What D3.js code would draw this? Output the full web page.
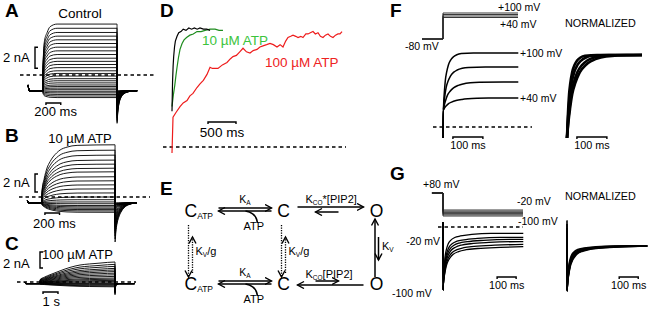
<!DOCTYPE html>
<html>
<head>
<meta charset="utf-8">
<script src="https://cdn.jsdelivr.net/npm/d3@7/dist/d3.min.js"></script>
<style>
  body { margin: 0; background: #fff; }
  text { font-family: "Liberation Sans", Arial, sans-serif; fill: #000; }
</style>
</head>
<body>
<div id="chart-area"></div>
<script>
/*
*    figure: current families (A-C), normalized activation (D),
*    kinetic scheme (E), activation / deactivation (F, G)
*/

// ---- A-C : current (nA) reached by each trace at the end of the pulse ----
var ctrlLevels   = [4.85, 4.45, 4.05, 3.7, 3.35, 3.0, 2.65, 2.3, 1.95, 1.6, 1.3, 1.0, 0.7, 0.4, 0.15, -0.1, -0.35, -0.55, -0.75, -0.95, -1.1, -1.25, -1.4, -1.55, -1.7, -1.85, -2.0, -2.15];
var atp10Levels  = [5.8, 5.2, 4.65, 4.1, 3.65, 3.2, 2.8, 2.25, 1.8, 1.35, 0.9, 0.45, 0.0, -0.3, -0.55, -0.75, -0.95, -1.1, -1.25, -1.4, -1.55, -1.7];
var atp100Levels = [2.5, 2.2, 1.95, 1.7, 1.5, 1.3, 1.1, 0.9, 0.7, 0.5, 0.35, 0.2, 0.05, -0.1, -0.2, -0.3, -0.4, -0.5, -0.6];
var holdCurrent  = [-1.5, -0.65, -0.2];   // A, B, C
var startCurrent = [-0.95, -0.35, 0.0];
var tailPeak     = [-4.6, -5.0, -1.6];

// activation time course (ms, fraction of final level)
var ctrlActT   = [0, 8, 20, 54, 95, 190, 1000];
var ctrlActF   = [0.35, 0.6, 0.75, 0.87, 0.96, 1, 1];
var atp10ActT  = [0, 30, 68, 110, 150, 200, 247, 342, 480, 1000];
var atp10ActF  = [0.21, 0.42, 0.6, 0.71, 0.79, 0.86, 0.91, 0.96, 0.99, 1];
var atp100ActT = [0, 300, 667, 1000, 1333, 2000, 2667, 3300, 4000, 5000];
var atp100ActF = [0.18, 0.3, 0.41, 0.5, 0.59, 0.75, 0.86, 0.91, 0.95, 1];

// tail relaxation (ms after the pulse, fraction left)
var fastTailT = [0, 6, 15, 30, 55, 90, 140, 200, 270];
var fastTailF = [1, 0.78, 0.56, 0.36, 0.2, 0.1, 0.04, 0.01, 0];
var slowTailT = [0, 10, 25, 50, 80, 120, 170, 230, 300];
var slowTailF = [1, 0.75, 0.55, 0.37, 0.24, 0.13, 0.06, 0.02, 0];

// ---- D : normalized currents [ms, fraction] ----
var dCtrl = [[0,0.3],[10,0.55],[20,0.68],[30,0.76],[45,0.84],[60,0.89],[90,0.93],[120,0.96],[160,0.97],[200,0.99],[250,0.98],[300,1.0],[350,0.99],[400,1.0],[450,0.99],[500,1.0],[560,0.99],[620,0.99],[680,0.98]];
var dAtp10 = [[0,0.34],[25,0.44],[50,0.52],[70,0.6],[90,0.67],[115,0.75],[143,0.82],[180,0.87],[215,0.9],[260,0.92],[320,0.94],[380,0.95],[446,0.97],[520,0.97],[590,0.98],[680,0.99],[770,0.99],[840,0.98],[910,0.98]];
var dAtp100 = [[0,-0.05],[18,0.25],[71,0.29],[143,0.34],[200,0.37],[268,0.39],[320,0.43],[375,0.45],[446,0.5],[500,0.53],[560,0.56],[625,0.61],[679,0.67],[720,0.66],[821,0.66],[900,0.69],[982,0.71],[1040,0.74],[1089,0.76],[1150,0.77],[1210,0.8],[1268,0.83],[1330,0.8],[1393,0.79],[1450,0.81],[1518,0.82],[1570,0.84],[1625,0.85],[1690,0.86],[1750,0.87],[1810,0.86],[1875,0.84],[1930,0.86],[1982,0.84],[2030,0.89],[2071,0.92],[2120,0.93],[2161,0.94],[2210,0.93],[2250,0.92],[2300,0.93],[2339,0.92],[2390,0.95],[2429,0.95],[2470,0.96],[2518,0.97],[2560,0.95],[2607,0.96],[2650,0.93],[2696,0.92],[2740,0.94],[2786,0.95],[2830,0.93],[2875,0.92],[2920,0.94],[2964,0.95],[3000,0.95],[3036,0.97]];

// ---- E : kinetic scheme ----
var stateNames = ["C_{ATP}", "C", "O"];
var rowRates   = [["K_{A}", "K_{CO}*[PIP2]"], ["K_{A}", "K_{CO}[PIP2]"]];
var vertRates  = ["K_{V}/g", "K_{V}/g", "K_{V}"];

// ---- F : activation ----
var fVolts   = [100, 80, 60, 40];
var fSteady  = [3.7, 3.0, 2.25, 1.45];
var fInst    = 0.85;
var fSpike   = -0.55;
var fStretch = [1, 1.4, 2, 2.5];
var fActT    = [0, 2, 4, 7, 11, 17, 25, 33, 45, 60, 100, 250];
var fActF    = [0, 0.2, 0.35, 0.53, 0.66, 0.79, 0.88, 0.93, 0.97, 0.99, 1, 1];

// ---- G : deactivation ----
var gVolts    = [-20, -36, -52, -68, -84, -100];
var gSteady   = [-0.32, -0.52, -0.62, -0.73, -0.87, -0.98];
var gInst     = -2.9;
var gSpikeUp  = 0.25;
var gSpikeDn  = -3.15;
var gStretch  = [1, 1.2, 1.4, 1.6, 1.8, 2.0];
var gRelT     = [0, 4, 8, 14, 20, 26, 40, 60, 90, 150, 250, 420];
var gRelF     = [0, 0.3, 0.5, 0.65, 0.74, 0.8, 0.87, 0.92, 0.95, 0.98, 1, 1];

var svg = d3.select("#chart-area").append("svg").attr("width", 652).attr("height", 310);

var defs = svg.append("defs");
defs.append("marker").attr("id", "head").attr("markerUnits", "userSpaceOnUse")
    .attr("markerWidth", 9).attr("markerHeight", 9).attr("refX", 7).attr("refY", 4)
    .attr("orient", "auto")
    .append("path").attr("d", "M0.5,0.5 L7,4 L0.5,7.5").attr("fill", "none")
    .attr("stroke", "#000").attr("stroke-width", 1.4);

var smooth = d3.curveMonotoneX;

function label(x, y, txt, size, anchor, weight) {
    return svg.append("text").attr("x", x).attr("y", y).attr("font-size", size)
              .attr("text-anchor", anchor || "start").attr("font-weight", weight || "normal").text(txt);
}
function dashed(x0, x1, y) {
    svg.append("line").attr("x1", x0).attr("x2", x1).attr("y1", y).attr("y2", y)
       .attr("stroke", "#000").attr("stroke-width", 1.3).attr("stroke-dasharray", "3.5,3");
}
function timeBar(x0, x1, y) {
    svg.append("path").attr("d", "M" + x0 + "," + (y + 2) + "V" + y + "H" + x1 + "V" + (y + 2))
       .attr("fill", "none").attr("stroke", "#000").attr("stroke-width", 1.4);
}
function ampBar(x, y0, y1) {
    svg.append("path").attr("d", "M" + (x + 3) + "," + y0 + "H" + x + "V" + y1 + "H" + (x + 3))
       .attr("fill", "none").attr("stroke", "#000").attr("stroke-width", 1.4);
}

// ---------- A-C ----------
function familyTraces(levels, hold, start, pre, actT, actF, dur, tailT, tailF, peak, post) {
    var lo = d3.min(levels), hi = d3.max(levels);
    return levels.map(function(L) {
        var pts = [[-pre, start], [-pre * 0.94, hold], [-1, hold]];
        actT.forEach(function(t, k) { pts.push([t + 0.5, hold + (L - hold) * actF[k]]); });
        var tI = hold + (peak - hold) * (L - lo) / (hi - lo);
        tailT.forEach(function(t, k) { pts.push([dur + 1 + t, hold + (tI - hold) * tailF[k]]); });
        pts.push([post, hold]);
        return pts;
    });
}

var families = [
    { levels: ctrlLevels, actT: ctrlActT, actF: ctrlActF, dur: 1000, pre: 200, post: 1270, tT: fastTailT, tF: fastTailF,
      x: d3.scaleLinear().domain([0, 1000]).range([43, 117]), y: d3.scaleLinear().domain([0, 2]).range([75, 54]) },
    { levels: atp10Levels, actT: atp10ActT, actF: atp10ActF, dur: 1000, pre: 200, post: 1270, tT: slowTailT, tF: slowTailF,
      x: d3.scaleLinear().domain([0, 1000]).range([42, 115]), y: d3.scaleLinear().domain([0, 2]).range([197, 179]) },
    { levels: atp100Levels, actT: atp100ActT, actF: atp100ActF, dur: 5000, pre: 1000, post: 6300, tT: fastTailT, tF: fastTailF,
      x: d3.scaleLinear().domain([0, 5000]).range([40, 115]), y: d3.scaleLinear().domain([0, 2]).range([282, 266]) }
];

families.forEach(function(f, i) {
    var traces = familyTraces(f.levels, holdCurrent[i], startCurrent[i], f.pre, f.actT, f.actF,
                              f.dur, f.tT, f.tF, tailPeak[i], f.post);
    var line = d3.line().x(function(d) { return f.x(d[0]); }).y(function(d) { return f.y(d[1]); }).curve(smooth);
    svg.append("g").selectAll("path").data(traces).enter().append("path")
       .attr("d", line).attr("fill", "none").attr("stroke", "#000").attr("stroke-width", 0.9);
});

// zero lines and scale bars
dashed(20, 154, families[0].y(0));
dashed(19, 150, families[1].y(0));
dashed(17, 136, families[2].y(0));

ampBar(35, families[0].y(2.65), families[0].y(0.65));
ampBar(35, families[1].y(2.55), families[1].y(0.55));
ampBar(40, families[2].y(3.75), families[2].y(1.75));
label(3, 62, "2 nA", 13);
label(3, 187, "2 nA", 13);
label(3, 268, "2 nA", 13);

timeBar(families[0].x(40), families[0].x(240), 103);
label(families[0].x(170), 116, "200 ms", 13, "middle");
timeBar(families[1].x(40), families[1].x(240), 213);
label(families[1].x(170), 228, "200 ms", 13, "middle");
timeBar(families[2].x(200), families[2].x(1200), 292);
label(families[2].x(750), 306, "1 s", 13, "middle");

label(5, 17, "A", 19, "start", "bold");
label(5, 142, "B", 19, "start", "bold");
label(5, 250, "C", 19, "start", "bold");
label(80, 18, "Control", 13.5, "middle");
label(80, 143, "10 \u00b5M ATP", 13, "middle");
label(42, 259, "100 \u00b5M ATP", 13, "start");

// ---------- D ----------
var xD = d3.scaleLinear().domain([0, 3100]).range([172, 345.6]);
var yD = d3.scaleLinear().domain([0, 1]).range([147, 28]);
var lineD = d3.line().x(function(d) { return xD(d[0]); }).y(function(d) { return yD(d[1]); });

dashed(163, 346, yD(0));
svg.append("path").attr("d", lineD(dAtp100)).attr("fill", "none").attr("stroke", "#ee1c1c").attr("stroke-width", 1.2);
svg.append("path").attr("d", lineD(dAtp10)).attr("fill", "none").attr("stroke", "#1e8c1e").attr("stroke-width", 1.2);
svg.append("path").attr("d", lineD(dCtrl)).attr("fill", "none").attr("stroke", "#000").attr("stroke-width", 1.2);

label(202, 45, "10 \u00b5M ATP", 13.5).style("fill", "#3cc43c");
label(265, 67, "100 \u00b5M ATP", 13.5).style("fill", "#ee2222");
timeBar(xD(643), xD(1143), 122);
label(xD(893), 137, "500 ms", 13.5, "middle");
label(160, 17, "D", 19, "start", "bold");

// ---------- E ----------
var eCol = d3.scalePoint().domain([0, 1, 2]).range([190.5, 376.5]);
var eRow = d3.scalePoint().domain([0, 1]).range([217, 290]);

function rich(x, y, str, size, subSize, anchor) {
    var t = svg.append("text").attr("x", x).attr("y", y).attr("text-anchor", anchor || "start");
    var shift = 0;
    str.split(/(_\{[^}]*\})/).filter(function(p) { return p.length; }).forEach(function(p) {
        if (p[0] === "_") {
            t.append("tspan").attr("font-size", subSize).attr("dy", 2 - shift).text(p.slice(2, -1));
            shift = 2;
        } else {
            t.append("tspan").attr("font-size", size).attr("dy", -shift).text(p);
            shift = 0;
        }
    });
    return t;
}
function arrow(x0, y0, x1, y1, dotted) {
    var l = svg.append("line").attr("x1", x0).attr("y1", y0).attr("x2", x1).attr("y2", y1)
               .attr("stroke", "#000").attr("stroke-width", dotted ? 1.3 : 1.5)
               .attr("marker-end", "url(#head)");
    if (dotted) l.attr("stroke-dasharray", "1.3,1.2");
}

eRow.domain().forEach(function(r) {
    var y = eRow(r);
    stateNames.forEach(function(s, c) {
        if (c === 0) rich(eCol(c) - 6, y, s, 17.5, 8.5);
        else rich(eCol(c), y, s, 17.5, 8.5, "middle");
    });
    // C_ATP <-> C
    var a0 = eCol(0) + 28, a1 = eCol(1) - 12;
    arrow(a0, y - 9, a1, y - 9);
    arrow(a1, y - 6, a0, y - 6);
    rich((a0 + a1) / 2, y - 14, rowRates[r][0], 10.5, 6.5, "middle");
    svg.append("path").attr("d", "M" + (eCol(0) + 55) + "," + (y - 6) + " Q" + (eCol(0) + 66) + "," + (y - 4) + " " + (eCol(0) + 67) + "," + (y + 6))
       .attr("fill", "none").attr("stroke", "#000").attr("stroke-width", 1.5);
    label(eCol(0) + 53, y + 13, "ATP", 11);
    // C <-> O
    var b0 = eCol(1) + 14, b1 = eCol(2) - 13, s0 = eCol(1) + 32, s1 = eCol(1) + 55;
    if (r === 0) {
        arrow(b0, y - 10, b1, y - 10);
        arrow(s1, y - 5, s0, y - 5);
        rich(eCol(1) + 22, y - 14, rowRates[r][1], 11, 6.5);
    } else {
        arrow(s0, y - 9, s1, y - 9);
        arrow(b1, y - 5, b0, y - 5);
        rich(eCol(1) + 22, y - 12, rowRates[r][1], 11, 6.5);
    }
});

[0, 1].forEach(function(c) {
    var x = eCol(c);
    arrow(x - 2, eRow(0) + 8, x - 2, eRow(1) - 13, true);
    arrow(x + 2, eRow(1) - 17, x + 2, eRow(0) + 20, true);
    rich(x + 5, (eRow(0) + eRow(1)) / 2 + 1.5, vertRates[c], 11, 6.5);
});
arrow(eCol(2) - 1.5, eRow(1) - 13, eCol(2) - 1.5, eRow(0) + 2);
arrow(eCol(2) + 2, eRow(0) + 20, eCol(2) + 2, eRow(1) - 30);
rich(eCol(2) + 5.5, 250, vertRates[2], 11, 6.5);
label(160, 195, "E", 19, "start", "bold");

// ---------- F ----------
var xF = d3.scaleLinear().domain([0, 250]).range([443, 518]);
var yF = d3.scaleLinear().domain([0, 1]).range([127, 107]);
var vF = d3.scaleLinear().domain([-80, 40, 100]).range([39, 17.5, 13]);
var xFN = d3.scaleLinear().domain([0, 250]).range([567, 642]);
var yFN = d3.scaleLinear().domain([0, 1]).range([138, 55]);

function stretched(T, F, s, tMax) {
    var pts = [];
    T.forEach(function(t, k) { if (t * s < tMax) pts.push([t * s, F[k]]); });
    pts.push([tMax, F[F.length - 1]]);
    return pts;
}

var fTraces = fSteady.map(function(L, i) {
    var pts = [[0, fSpike], [0.6, fInst]];
    stretched(fActT, fActF, fStretch[i], 250).forEach(function(p) {
        pts.push([p[0] + 1, fInst + (L - fInst) * p[1]]);
    });
    return pts;
});
var fNorm = fSteady.map(function(L, i) { return stretched(fActT, fActF, fStretch[i], 250); });

svg.append("g").selectAll("path").data(fVolts).enter().append("path")
   .attr("d", function(v) { return d3.line()([[xF(-70), vF(-80)], [xF(0), vF(-80)], [xF(0), vF(v)], [xF(250), vF(v)]]); })
   .attr("fill", "none").attr("stroke", "#222").attr("stroke-width", 0.9);

var lineF = d3.line().x(function(d) { return xF(d[0]); }).y(function(d) { return yF(d[1]); }).curve(smooth);
svg.append("g").selectAll("path").data(fTraces).enter().append("path")
   .attr("d", lineF).attr("fill", "none").attr("stroke", "#000").attr("stroke-width", 1.5);
var lineFN = d3.line().x(function(d) { return xFN(d[0]); }).y(function(d) { return yFN(d[1]); }).curve(smooth);
svg.append("g").selectAll("path").data(fNorm).enter().append("path")
   .attr("d", lineFN).attr("fill", "none").attr("stroke", "#000").attr("stroke-width", 2.6);

dashed(433, 532, yF(0));
label(498, 11, "+100 mV", 10.5);
label(500, 28, "+40 mV", 10.5);
label(405, 50, "-80 mV", 10.5);
label(xF(250) + 2, yF(fSteady[0]) + 4, "+100 mV", 10.5);
label(xF(250) + 2, yF(fSteady[3]) + 4, "+40 mV", 10.5);
label(565, 27, "NORMALIZED", 10.8);
timeBar(xF(33), xF(133), 137);
label(xF(83), 149, "100 ms", 10.8, "middle");
timeBar(xFN(33), xFN(133), 137);
label(xFN(83), 149, "100 ms", 10.8, "middle");
label(390, 17, "F", 19, "start", "bold");

// ---------- G ----------
var xG = d3.scaleLinear().domain([0, 420]).range([443, 523]);
var yG = d3.scaleLinear().domain([0, 1]).range([227, 207]);
var vG = d3.scaleLinear().domain([-100, -20, 80]).range([216, 210, 193]);
var xGN = d3.scaleLinear().domain([0, 420]).range([567, 647]);
var yGN = d3.scaleLinear().domain([0, 1]).range([286, 246]);

var gTraces = gSteady.map(function(L, i) {
    var pts = [[0, gSpikeUp], [0.3, gSpikeDn], [1.5, gInst]];
    stretched(gRelT, gRelF, gStretch[i], 420).forEach(function(p) {
        if (p[0] > 0) pts.push([p[0] + 1.5, gInst + (L - gInst) * p[1]]);
    });
    return pts;
});
var gNorm = gTraces.map(function(tr, i) {
    return tr.map(function(p) { return [p[0], (p[1] - gInst) / (gSteady[i] - gInst)]; });
});

svg.append("g").selectAll("path").data(gVolts).enter().append("path")
   .attr("d", function(v) { return d3.line()([[xG(-58), vG(80)], [xG(0), vG(80)], [xG(0), vG(v)], [xG(420), vG(v)]]); })
   .attr("fill", "none").attr("stroke", "#222").attr("stroke-width", 0.9);

var lineG = d3.line().x(function(d) { return xG(d[0]); }).y(function(d) { return yG(d[1]); }).curve(smooth);
svg.append("g").selectAll("path").data(gTraces).enter().append("path")
   .attr("d", lineG).attr("fill", "none").attr("stroke", "#000").attr("stroke-width", 1.3);
var lineGN = d3.line().x(function(d) { return xGN(d[0]); }).y(function(d) { return yGN(d[1]); }).curve(smooth);
svg.append("g").selectAll("path").data(gNorm).enter().append("path")
   .attr("d", lineGN).attr("fill", "none").attr("stroke", "#000").attr("stroke-width", 1.6);

dashed(438, 523, yG(0));
label(423, 188, "+80 mV", 10.5);
label(517, 205, "-20 mV", 10.5);
label(518, 225, "-100 mV", 10.5);
label(440, 245, "-20 mV", 10.5, "end");
label(392, 297, "-100 mV", 10.5);
label(565, 200, "NORMALIZED", 10.8);
timeBar(xG(284), xG(384), 277);
label(xG(334), 289, "100 ms", 10.8, "middle");
timeBar(xGN(274), xGN(374), 277);
label(xGN(324), 289, "100 ms", 10.8, "middle");
label(390, 180, "G", 19, "start", "bold");
</script>
</body>
</html>
